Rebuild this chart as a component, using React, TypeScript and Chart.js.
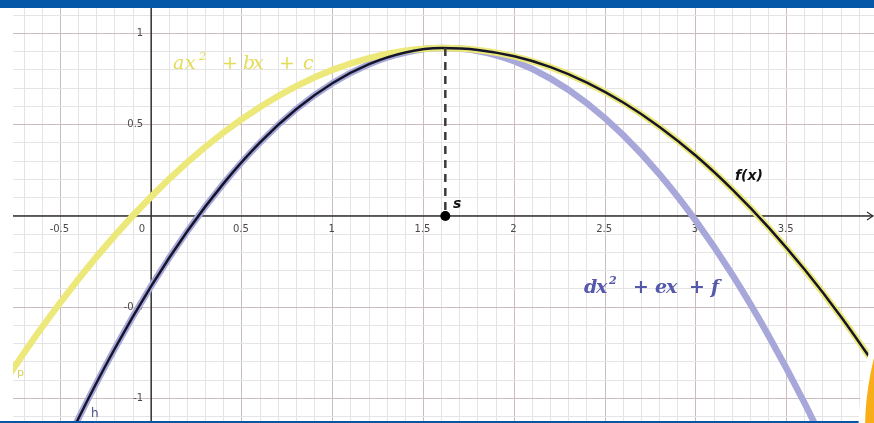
import React, { useEffect, useRef } from "react";
import { Chart, registerables } from "chart.js";

Chart.register(...registerables);

// ---- data ----
const X_MIN = -0.761;
const X_MAX = 3.981;
const Y_MIN = -1.1233;
const Y_MAX = 1.1397;

// yellow parabola p : ax^2 + bx + c
const pX = [-0.8, -0.6, -0.4, -0.2, 0, 0.2, 0.4, 0.6, 0.8, 1.0, 1.2, 1.4, 1.6, 1.8, 2.0, 2.2, 2.4, 2.6, 2.8, 3.0, 3.2, 3.4, 3.6, 3.8, 4.0];
const pValues = [-0.896, -0.608, -0.345, -0.107, 0.106, 0.295, 0.459, 0.597, 0.712, 0.801, 0.865, 0.905, 0.92, 0.91, 0.875, 0.816, 0.731, 0.622, 0.488, 0.33, 0.146, -0.062, -0.295, -0.553, -0.836];

// lavender parabola : dx^2 + ex + f  (h on the left)
const qX = [-0.6, -0.4, -0.2, 0, 0.2, 0.4, 0.6, 0.8, 1.0, 1.2, 1.4, 1.6, 1.8, 2.0, 2.2, 2.4, 2.6, 2.8, 3.0, 3.2, 3.4, 3.6, 3.8];
const qValues = [-1.529, -1.108, -0.726, -0.384, -0.082, 0.18, 0.403, 0.586, 0.729, 0.832, 0.896, 0.92, 0.904, 0.848, 0.753, 0.618, 0.443, 0.228, -0.027, -0.321, -0.655, -1.028, -1.442];

// f(x): h on the left of s, p on the right
const fX = [-0.6, -0.4, -0.2, 0, 0.2, 0.4, 0.6, 0.8, 1.0, 1.2, 1.4, 1.6, 1.8, 2.0, 2.2, 2.4, 2.6, 2.8, 3.0, 3.2, 3.4, 3.6, 3.8, 4.0];
const fValues = [-1.529, -1.108, -0.726, -0.384, -0.082, 0.18, 0.403, 0.586, 0.729, 0.832, 0.896, 0.92, 0.91, 0.875, 0.816, 0.731, 0.622, 0.488, 0.33, 0.146, -0.062, -0.295, -0.553, -0.836];

const vertexX = 1.62;
const vertexY = 0.92;

const xTickValues = [-0.5, 0, 0.5, 1, 1.5, 2, 2.5, 3, 3.5];
const xTickLabels = ["-0.5", "0", "0.5", "1", "1.5", "2", "2.5", "3", "3.5"];
const yTickValues = [1, 0.5, -0.5, -1];
const yTickLabels = ["1", "0.5", "-0.5", "-1"];

// ---- styles ----
const YELLOW = "#ece87a";
const LAVENDER = "#a7a7da";
const MINOR = "#e4e4e6";
const MAJOR = "#cbbdbd";
const AXIS = "#333333";
const BLUE = "#0558a8";
const ORANGE = "#f9ae17";

const toPts = (xs: number[], ys: number[]) => xs.map((x, i) => ({ x, y: ys[i] }));

function tenthTicks(scale: any) {
  const ticks: { value: number }[] = [];
  for (let i = Math.ceil(scale.min * 10); i <= Math.floor(scale.max * 10); i++) {
    ticks.push({ value: i / 10 });
  }
  scale.ticks = ticks;
}

function gridColor(ctx: any) {
  const v = ctx.tick ? ctx.tick.value : 0.1;
  if (Math.abs(v * 2 - Math.round(v * 2)) < 1e-6) return MAJOR;
  return MINOR;
}

function drawMath(ctx: CanvasRenderingContext2D, pieces: [string, number, boolean][], baseline: number, color: string, font: string, supFont: string) {
  ctx.save();
  ctx.fillStyle = color;
  ctx.textBaseline = "alphabetic";
  ctx.textAlign = "left";
  for (const [t, x, sup] of pieces) {
    ctx.font = sup ? supFont : font;
    ctx.fillText(t, x, sup ? baseline - 9 : baseline);
  }
  ctx.restore();
}

const geoPlugin = {
  id: "geo",
  beforeDatasetsDraw(chart: any) {
    const { ctx, chartArea, scales } = chart;
    const x0 = scales.x.getPixelForValue(0);
    const y0 = scales.y.getPixelForValue(0);
    ctx.save();
    // axes
    ctx.strokeStyle = AXIS;
    ctx.lineWidth = 1.5;
    ctx.beginPath();
    ctx.moveTo(chartArea.left, y0);
    ctx.lineTo(chartArea.right - 1, y0);
    ctx.moveTo(x0, chartArea.top);
    ctx.lineTo(x0, chartArea.bottom);
    ctx.stroke();
    // arrow on x axis
    ctx.lineWidth = 1.2;
    ctx.beginPath();
    ctx.moveTo(chartArea.right - 7, y0 - 4);
    ctx.lineTo(chartArea.right - 1, y0);
    ctx.lineTo(chartArea.right - 7, y0 + 4);
    ctx.stroke();
    // tick labels
    ctx.font = "10px 'DejaVu Sans'";
    ctx.fillStyle = "#4a4a4a";
    ctx.textBaseline = "middle";
    ctx.textAlign = "center";
    xTickValues.forEach((v, i) => {
      const px = scales.x.getPixelForValue(v);
      if (v === 0) {
        ctx.textAlign = "right";
        ctx.fillText(xTickLabels[i], px - 6, y0 + 13);
        ctx.textAlign = "center";
      } else {
        ctx.fillText(xTickLabels[i], px - 1, y0 + 13);
      }
    });
    ctx.textAlign = "right";
    yTickValues.forEach((v, i) => {
      const py = scales.y.getPixelForValue(v);
      ctx.fillText(yTickLabels[i], x0 - 8, py);
    });
    ctx.restore();
  },
  afterDatasetsDraw(chart: any) {
    const { ctx } = chart;
    drawMath(
      ctx,
      [["a", 173, false], ["x", 185, false], ["2", 199, true], ["+", 222, false], ["b", 243, false], ["x", 253, false], ["+", 279, false], ["c", 303, false]],
      69,
      "#e3dc58",
      "italic 19px 'DejaVu Serif'",
      "italic 11px 'DejaVu Serif'"
    );
    drawMath(
      ctx,
      [["d", 584, false], ["x", 596, false], ["2", 609, true], ["+", 633, false], ["e", 655, false], ["x", 666, false], ["+", 689, false], ["f", 711, false]],
      293,
      "#5659ab",
      "italic bold 19px 'DejaVu Serif'",
      "italic bold 11px 'DejaVu Serif'"
    );
    ctx.save();
    ctx.fillStyle = "#111";
    ctx.textBaseline = "alphabetic";
    ctx.textAlign = "left";
    ctx.font = "italic bold 14px 'DejaVu Sans'";
    ctx.fillText("f(x)", 735, 180);
    ctx.fillText("s", 453, 208);
    ctx.font = "11px 'DejaVu Sans'";
    ctx.fillStyle = "#d6cf58";
    ctx.fillText("p", 17, 376);
    ctx.font = "12px 'DejaVu Sans'";
    ctx.fillStyle = "#4b4b8a";
    ctx.fillText("h", 91, 417);
    ctx.restore();
  },
  afterDraw(chart: any) {
    const { ctx, width, height } = chart;
    ctx.save();
    ctx.fillStyle = BLUE;
    ctx.fillRect(0, 0, width, 8);
    ctx.fillRect(0, 421, width, height - 421);
    // corner badge
    ctx.fillStyle = "#ffffff";
    ctx.beginPath();
    ctx.arc(1157.5, 430, 299, 0, Math.PI * 2);
    ctx.fill();
    ctx.fillStyle = ORANGE;
    ctx.beginPath();
    ctx.arc(1157.5, 430, 292.5, 0, Math.PI * 2);
    ctx.fill();
    ctx.restore();
  },
};

export default function App() {
  const ref = useRef<HTMLCanvasElement>(null);
  useEffect(() => {
    document.body.style.margin = "0";
    const canvas = ref.current as HTMLCanvasElement;
    const chart = new Chart(canvas, {
      type: "scatter",
      data: {
        datasets: [
          {
            label: "p",
            data: toPts(pX, pValues),
            showLine: true,
            borderColor: YELLOW,
            borderWidth: 6.5,
            pointRadius: 0,
            cubicInterpolationMode: "monotone",
            clip: 0,
            order: 4,
          } as any,
          {
            label: "q",
            data: toPts(qX, qValues),
            showLine: true,
            borderColor: LAVENDER,
            borderWidth: 6.5,
            pointRadius: 0,
            cubicInterpolationMode: "monotone",
            clip: 0,
            order: 5,
          } as any,
          {
            label: "f",
            data: toPts(fX, fValues),
            showLine: true,
            borderColor: "#15152a",
            borderWidth: 2.5,
            pointRadius: 0,
            cubicInterpolationMode: "monotone",
            clip: 0,
            order: 2,
          } as any,
          {
            label: "seg",
            data: [{ x: vertexX, y: vertexY }, { x: vertexX, y: 0 }],
            showLine: true,
            borderColor: "#3a3a3a",
            borderWidth: 2.5,
            borderDash: [8, 6],
            pointRadius: 0,
            clip: 0,
            order: 1,
          } as any,
          {
            label: "s",
            data: [{ x: vertexX, y: 0 }],
            showLine: false,
            pointRadius: 5,
            backgroundColor: "#000",
            borderColor: "#000",
            borderWidth: 0,
            clip: false,
            order: 0,
          } as any,
        ],
      },
      options: {
        animation: false,
        responsive: false,
        events: [],
        layout: { autoPadding: false, padding: { left: 13, top: 8, right: 0, bottom: 2 } },
        plugins: { legend: { display: false }, tooltip: { enabled: false } },
        scales: {
          x: {
            type: "linear",
            min: X_MIN,
            max: X_MAX,
            ticks: { display: false },
            border: { display: false },
            grid: { color: gridColor, lineWidth: 1, drawTicks: false },
            afterBuildTicks: tenthTicks,
          },
          y: {
            type: "linear",
            min: Y_MIN,
            max: Y_MAX,
            ticks: { display: false },
            border: { display: false },
            grid: { color: gridColor, lineWidth: 1, drawTicks: false },
            afterBuildTicks: tenthTicks,
          },
        },
      } as any,
      plugins: [geoPlugin],
    });
    return () => chart.destroy();
  }, []);
  return (
    <div style={{ width: 874, height: 423, background: "#fff" }}>
      <canvas ref={ref} width={874} height={423} style={{ display: "block" }} />
    </div>
  );
}
